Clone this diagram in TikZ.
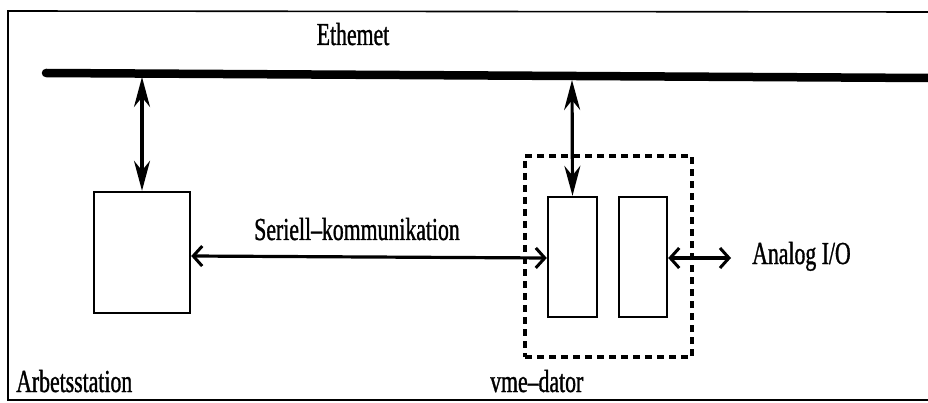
\documentclass[tikz,border=0pt]{standalone}
\usepackage{fontspec}
\setmainfont{Liberation Serif}
\newfontfamily\condfont[FakeStretch=0.68,FakeBold=1,Ligatures=TeX]{Liberation Serif}
\usetikzlibrary{arrows.meta}
\begin{document}
\begin{tikzpicture}[x=1pt,y=-1pt,
  lbl/.style={font=\condfont\fontsize{32}{34}\selectfont, inner sep=0pt},
  unitbox/.style={draw, line width=2.4pt, inner sep=0pt},
  vlink/.style={line width=3.2pt, {Stealth[length=30pt,width=16pt]}-{Stealth[length=30pt,width=16pt]}},
  hlink/.style={line width=3.2pt, {Straight Barb[length=9pt,width=20pt,line width=3pt]}-{Straight Barb[length=9pt,width=20pt,line width=3pt]}}]
\useasboundingbox (0,0) rectangle (928,403);
% frame
\draw[line width=1.6pt] (929,12) -- (8,11) -- (8,400) -- (929,400);
% ethernet bar
\coordinate (barL) at (46,73);
\coordinate (barR) at (929,78);
\draw[line width=8.5pt, line cap=round] (barL) -- (barR);
\node[lbl, anchor=base] (eth) at (353,45) {Ethemet};
% arbetsstation
\node[unitbox, minimum width=96pt, minimum height=121pt] (ws) at (142,252.5) {};
\coordinate (tap1) at (142,77);
\draw[vlink] (tap1) -- (ws.north);
% vme
\node[draw, dashed, line width=3.2pt, dash pattern=on 7pt off 5pt, minimum width=167pt, minimum height=201pt, inner sep=0pt] (vme) at (608.5,256.5) {};
\node[unitbox, minimum width=49pt, minimum height=120pt] (cpu) at (572.5,257) {};
\node[unitbox, minimum width=48pt, minimum height=120pt] (aio) at (643,257) {};
\coordinate (tap2) at (572,80);
\draw[vlink] (tap2) -- (cpu.north);
% serial link
\draw[hlink] (ws.east |- 0,256) -- (cpu.west |- 0,258);
\node[lbl, anchor=base] (ser) at (357,240) {Seriell--kommunikation};
% analog
\coordinate (aout) at (731,258);
\draw[hlink] (aio.east |- 0,258) -- (aout);
\node[lbl, anchor=base west] (ana) at (752,264) {Analog I/O};
% labels
\node[lbl, anchor=base west] (arb) at (16,392) {Arbetsstation};
\node[lbl, anchor=base west] (vmel) at (490,392) {vme--dator};
\end{tikzpicture}
\end{document}
